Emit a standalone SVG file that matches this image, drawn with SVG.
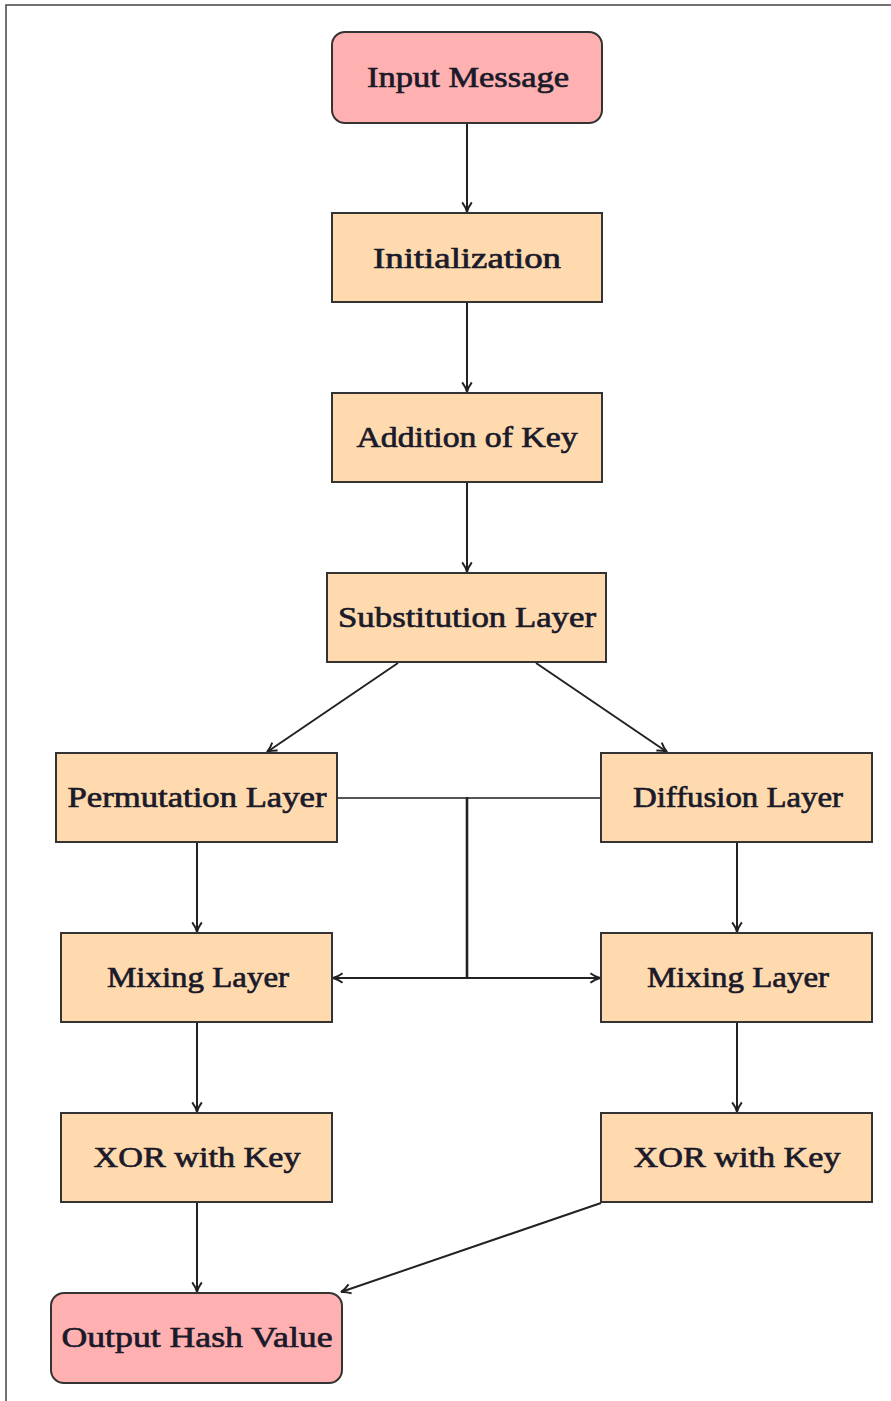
<svg xmlns="http://www.w3.org/2000/svg" width="891" height="1401" viewBox="0 0 891 1401">
<style>
.proc{fill:#ffdaaf;stroke:#333;stroke-width:2}
.term{fill:#ffb0b0;stroke:#333;stroke-width:2}
.lbl{font-family:"Liberation Serif",serif;font-size:30px;fill:#1a1a2a;stroke:#1a1a2a;stroke-width:0.7;text-anchor:middle;dominant-baseline:central}
.c{fill:none;stroke:#222;stroke-width:2}
</style>
<defs>
<marker id="ah2" viewBox="0 0 10 10" refX="9" refY="5" markerWidth="12" markerHeight="12" orient="auto" markerUnits="userSpaceOnUse">
<path d="M1,1 Q5,4 9,5 Q5,6 1,9" fill="none" stroke="#222" stroke-width="1.6"/>
</marker>
</defs>
<rect x="0" y="0" width="891" height="1401" fill="#fff"/>
<path d="M6,1401 L6,5 L891,5" fill="none" stroke="#444" stroke-width="1.5"/>
<g id="connectors">
<line class="c" x1="467" y1="123" x2="467" y2="212" marker-end="url(#ah2)"/>
<line class="c" x1="467" y1="302" x2="467" y2="392" marker-end="url(#ah2)"/>
<line class="c" x1="467" y1="482" x2="467" y2="572" marker-end="url(#ah2)"/>
<line class="c" x1="398" y1="663" x2="267" y2="752" marker-end="url(#ah2)"/>
<line class="c" x1="536" y1="663" x2="667" y2="752" marker-end="url(#ah2)"/>
<line class="c" x1="197" y1="842" x2="197" y2="932" marker-end="url(#ah2)"/>
<line class="c" x1="737" y1="842" x2="737" y2="932" marker-end="url(#ah2)"/>
<line class="c" x1="197" y1="1022" x2="197" y2="1112" marker-end="url(#ah2)"/>
<line class="c" x1="737" y1="1022" x2="737" y2="1112" marker-end="url(#ah2)"/>
<line class="c" x1="197" y1="1202" x2="197" y2="1292" marker-end="url(#ah2)"/>
<line class="c" x1="601" y1="1203" x2="341" y2="1292" marker-end="url(#ah2)"/>
<line x1="337" y1="798" x2="601" y2="798" stroke="#555" stroke-width="2.2"/>
<line x1="467" y1="797" x2="467" y2="978" stroke="#222" stroke-width="2.6"/>
<line class="c" x1="467" y1="978" x2="333" y2="978" marker-end="url(#ah2)"/>
<line class="c" x1="467" y1="978" x2="600" y2="978" marker-end="url(#ah2)"/>
</g>
<g id="input"><rect class="term" x="332" y="32" width="270" height="91" rx="13"/><text class="lbl" x="468" y="76" textLength="202" lengthAdjust="spacingAndGlyphs">Input Message</text></g>
<g id="init"><rect class="proc" x="332" y="213" width="270" height="89"/><text class="lbl" x="467" y="257" textLength="188" lengthAdjust="spacingAndGlyphs">Initialization</text></g>
<g id="addkey"><rect class="proc" x="332" y="393" width="270" height="89"/><text class="lbl" x="467" y="436" textLength="221" lengthAdjust="spacingAndGlyphs">Addition of Key</text></g>
<g id="subst"><rect class="proc" x="327" y="573" width="279" height="89"/><text class="lbl" x="467" y="616" textLength="258" lengthAdjust="spacingAndGlyphs">Substitution Layer</text></g>
<g id="perm"><rect class="proc" x="56" y="753" width="281" height="89"/><text class="lbl" x="197" y="796" textLength="259" lengthAdjust="spacingAndGlyphs">Permutation Layer</text></g>
<g id="diff"><rect class="proc" x="601" y="753" width="271" height="89"/><text class="lbl" x="738" y="796" textLength="210" lengthAdjust="spacingAndGlyphs">Diffusion Layer</text></g>
<g id="mixL"><rect class="proc" x="61" y="933" width="271" height="89"/><text class="lbl" x="198" y="976" textLength="182" lengthAdjust="spacingAndGlyphs">Mixing Layer</text></g>
<g id="mixR"><rect class="proc" x="601" y="933" width="271" height="89"/><text class="lbl" x="738" y="976" textLength="182" lengthAdjust="spacingAndGlyphs">Mixing Layer</text></g>
<g id="xorL"><rect class="proc" x="61" y="1113" width="271" height="89"/><text class="lbl" x="197" y="1156" textLength="207" lengthAdjust="spacingAndGlyphs">XOR with Key</text></g>
<g id="xorR"><rect class="proc" x="601" y="1113" width="271" height="89"/><text class="lbl" x="737" y="1156" textLength="207" lengthAdjust="spacingAndGlyphs">XOR with Key</text></g>
<g id="output"><rect class="term" x="51" y="1293" width="291" height="90" rx="13"/><text class="lbl" x="197" y="1336" textLength="271" lengthAdjust="spacingAndGlyphs">Output Hash Value</text></g>
</svg>
